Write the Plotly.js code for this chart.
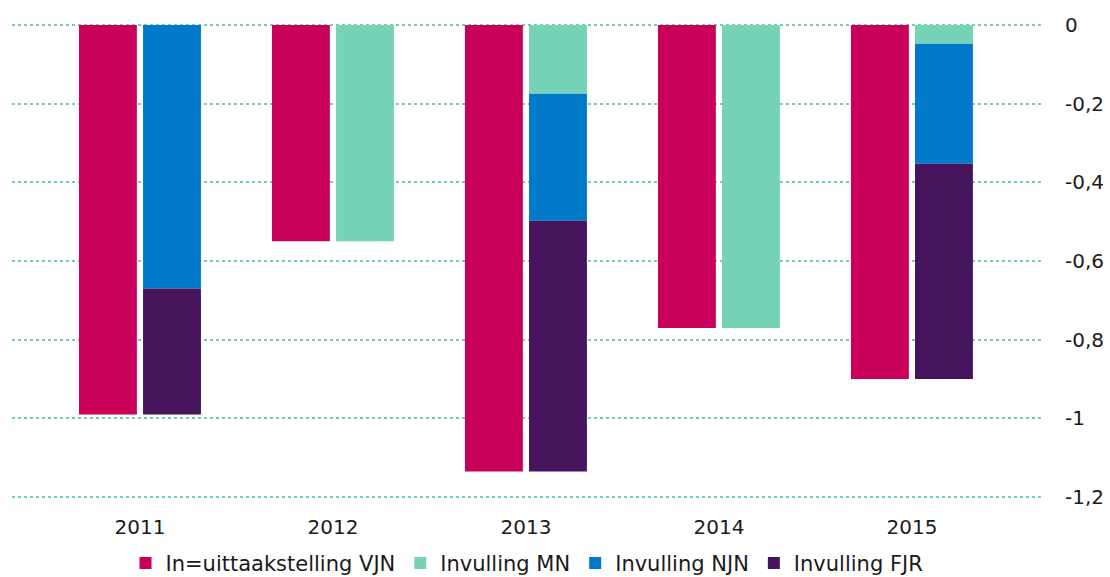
<!DOCTYPE html>
<html>
<head>
<meta charset="utf-8">
<script src="https://cdn.plot.ly/plotly-3.0.1.min.js"></script>
<style>html,body{margin:0;padding:0;background:#fff;}#chart{width:1110px;height:577px;}</style>
</head>
<body>
<div id="chart"></div>
<script>
const years = ["2011", "2012", "2013", "2014", "2015"];
const vjn = [-0.99, -0.55, -1.135, -0.77, -0.90];
const mn  = [0, -0.55, -0.175, -0.77, -0.048];
const njn = [-0.67, 0, -0.323, 0, -0.305];
const fjr = [-0.32, 0, -0.637, 0, -0.547];
const seriesNames = ["In=uittaakstelling VJN", "Invulling MN", "Invulling NJN", "Invulling FJR"];
const colors = ["#C8005A", "#76D3B8", "#0079C8", "#45145C"];
const yTicks = [0, -0.2, -0.4, -0.6, -0.8, -1, -1.2];

const W = 0.30;
const traces = [
  {type: 'bar', name: seriesNames[0], x: years, y: vjn, xaxis: 'x2', yaxis: 'y',
   width: W, offset: -0.316, marker: {color: colors[0], line: {width: 0}}, hoverinfo: 'y'},
  {type: 'bar', name: seriesNames[1], x: years, y: mn,
   width: W, offset: 0.016, marker: {color: colors[1], line: {width: 0}}, hoverinfo: 'y'},
  {type: 'bar', name: seriesNames[2], x: years, y: njn,
   width: W, offset: 0.016, marker: {color: colors[2], line: {width: 0}}, hoverinfo: 'y'},
  {type: 'bar', name: seriesNames[3], x: years, y: fjr,
   width: W, offset: 0.016, marker: {color: colors[3], line: {width: 0}}, hoverinfo: 'y'}
];

const xr = [-0.663, 4.674];
const layout = {
  width: 1110, height: 577,
  margin: {l: 12, r: 68, t: 23, b: 78, autoexpand: false},
  paper_bgcolor: '#fff', plot_bgcolor: '#fff',
  separators: ',.',
  barmode: 'relative',
  font: {family: 'DejaVu Sans, Verdana, sans-serif', size: 20, color: '#1a1a1a'},
  showlegend: true,
  legend: {orientation: 'h', x: 0.5, xanchor: 'center', y: -0.135, yanchor: 'middle',
           font: {size: 21, color: '#1a1a1a'}, itemwidth: 30, traceorder: 'normal'},
  xaxis: {type: 'category', range: xr, showgrid: false, zeroline: false, showline: false, automargin: false,
          ticks: 'outside', ticklen: 10, tickcolor: 'rgba(0,0,0,0)', tickfont: {size: 20}},
  xaxis2: {type: 'category', range: xr, overlaying: 'x', visible: false, matches: 'x'},
  yaxis: {side: 'right', range: [-1.205, 0.005], tickvals: yTicks, ticktext: yTicks.map(v => String(v).replace('.', ',')),
          showgrid: true, gridcolor: '#6fcfae', gridwidth: 2, griddash: 'dot', automargin: false,
          zeroline: false, showline: false, ticks: 'outside', ticklen: 18, tickcolor: 'rgba(0,0,0,0)', tickfont: {size: 20}}
};

Plotly.newPlot('chart', traces, layout, {displayModeBar: false, staticPlot: true});
</script>
</body>
</html>
